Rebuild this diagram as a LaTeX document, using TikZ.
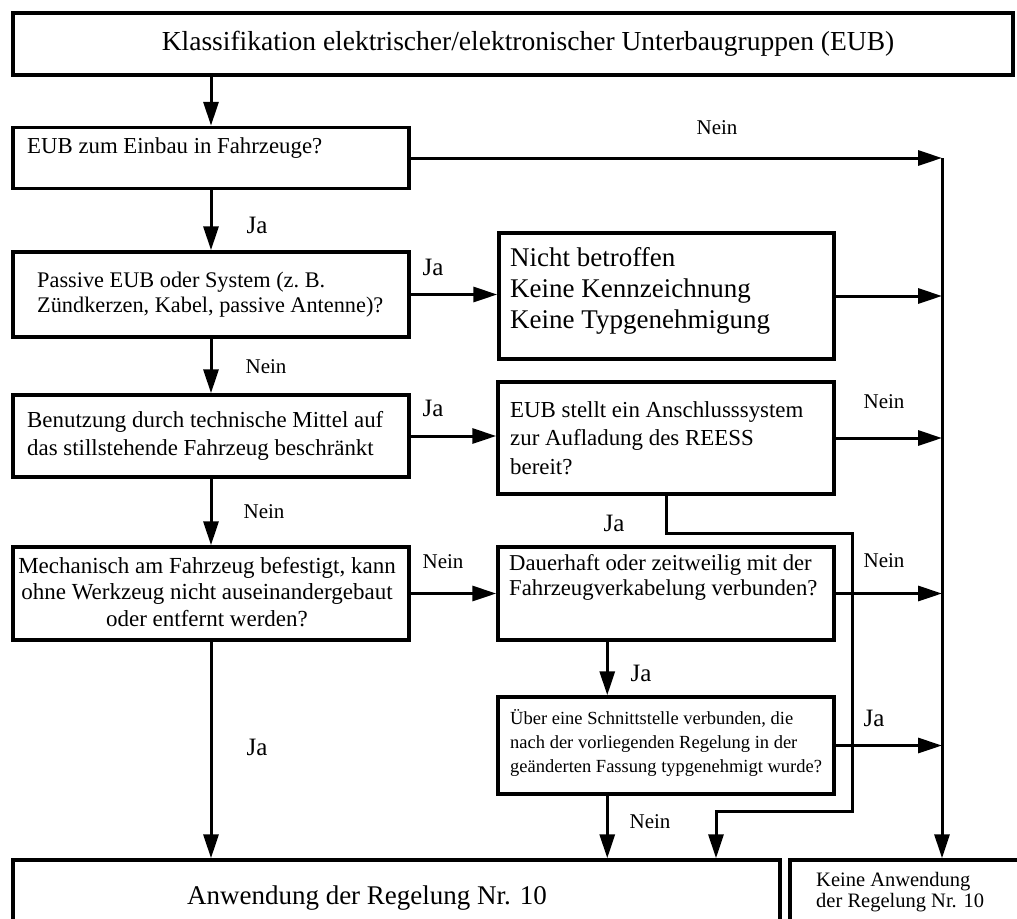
\documentclass[tikz,border=0pt]{standalone}
\usepackage{fontspec}
\setmainfont{Liberation Serif}
\usetikzlibrary{arrows.meta,positioning}
\tikzstyle{arrow} = [line width=3pt,-{Triangle[length=24pt,width=15pt]}]
\tikzstyle{plain} = [line width=3pt]
\tikzstyle{box} = [rectangle, draw, line width=3.5pt, inner sep=0pt]
\tikzstyle{txt} = [inner sep=0pt, anchor=west, align=left]
\tikzstyle{lbl} = [inner sep=0pt, font=\fontsize{25}{28}\selectfont]
\tikzstyle{lblsmall} = [inner sep=0pt, font=\fontsize{21}{24}\selectfont]

\begin{document}
\begin{tikzpicture}[x=1pt, y=-1pt]
    \useasboundingbox (0,0) rectangle (1017,918);
    \clip (0,0) rectangle (1017,918);

    % Title
    \node[box, minimum width=1000pt, minimum height=62pt] (title) at (513,44) {};
    \node[inner sep=0pt, font=\fontsize{27.5}{31}\selectfont] (titleT) at (528,44) {Klassifikation elektrischer/elektronischer Unterbaugruppen (EUB)};

    % Left column
    \node[box, minimum width=396pt, minimum height=61pt] (eub) at (211,158) {};
    \node[txt, font=\fontsize{22.8}{26}\selectfont] (eubT) at (27,148) {EUB zum Einbau in Fahrzeuge?};

    \node[box, minimum width=396pt, minimum height=85pt] (passiv) at (211,294.5) {};
    \node[txt, font=\fontsize{22.3}{25}\selectfont] (passivT) at (37,294.5) {Passive EUB oder System (z.\ B.\\Zündkerzen, Kabel, passive Antenne)?};

    \node[box, minimum width=396pt, minimum height=82pt] (stand) at (211,436) {};
    \node[txt, font=\fontsize{22.9}{28}\selectfont] (standT) at (27,436) {Benutzung durch technische Mittel auf\\das stillstehende Fahrzeug beschränkt};

    \node[box, minimum width=396pt, minimum height=93pt] (mech) at (211,593.5) {};
    \node[inner sep=0pt, align=center, font=\fontsize{23}{26.5}\selectfont] (mechT) at (207,592) {Mechanisch am Fahrzeug befestigt, kann\\ohne Werkzeug nicht auseinandergebaut\\oder entfernt werden?};

    % Right column
    \node[box, minimum width=335pt, minimum height=126pt] (nicht) at (666.5,296) {};
    \node[txt, font=\fontsize{27}{31}\selectfont] (nichtT) at (510,291) {Nicht betroffen\\Keine Kennzeichnung\\Keine Typgenehmigung};

    \node[box, minimum width=336pt, minimum height=112pt] (reess) at (666,438) {};
    \node[txt, font=\fontsize{22.9}{28.5}\selectfont] (reessT) at (510,438) {EUB stellt ein Anschlusssystem\\zur Aufladung des REESS\\bereit?};

    \node[box, minimum width=336pt, minimum height=93pt] (kabel) at (666,593.5) {};
    \node[txt, font=\fontsize{22.7}{25}\selectfont] (kabelT) at (509,577.5) {Dauerhaft oder zeitweilig mit der\\Fahrzeugverkabelung verbunden?};

    \node[box, minimum width=336pt, minimum height=97pt] (schnitt) at (666,745.5) {};
    \node[txt, font=\fontsize{18.5}{24}\selectfont] (schnittT) at (510,743) {Über eine Schnittstelle verbunden, die\\nach der vorliegenden Regelung in der\\geänderten Fassung typgenehmigt wurde?};

    % Results
    \node[box, minimum width=767pt, minimum height=100pt] (anw) at (396.5,910) {};
    \node[inner sep=0pt, font=\fontsize{27}{30}\selectfont] (anwT) at (367,898) {Anwendung der Regelung Nr. 10};

    \node[box, minimum width=250pt, minimum height=100pt] (keine) at (915,910) {};
    \node[txt, font=\fontsize{20.5}{21}\selectfont] (keineT) at (816,892.5) {Keine Anwendung\\der Regelung Nr. 10};

    % Helper points
    \coordinate (trunk) at (942,158);
    \coordinate (loopA) at (852,533);
    \coordinate (loopB) at (716,811);

    % Arrows left column
    \draw[arrow] (eub.north |- title.south) -- (eub.north);
    \draw[arrow] (eub.south) -- (passiv.north);
    \draw[arrow] (passiv.south) -- (stand.north);
    \draw[arrow] (stand.south) -- (mech.north);
    \draw[arrow] (mech.south) -- (mech.south |- anw.north);

    % Arrows to the right
    \draw[arrow] (passiv.east) -- (passiv.east -| nicht.west);
    \draw[arrow] (stand.east) -- (stand.east -| reess.west);
    \draw[arrow] (mech.east) -- (mech.east -| kabel.west);
    \draw[arrow] ([xshift=111pt]kabel.south west) -- ([xshift=111pt]schnitt.north west);
    \draw[arrow] ([xshift=111pt]schnitt.south west) -- ([xshift=111pt]schnitt.south west |- anw.north);
    \draw[arrow] (reess.south) |- (loopA) |- (loopB) -- (loopB |- anw.north);

    % Trunk to "Keine Anwendung"
    \draw[arrow] (eub.east) -- (eub.east -| trunk);
    \draw[arrow] (nicht.east) -- (nicht.east -| trunk);
    \draw[arrow] (reess.east) -- (reess.east -| trunk);
    \draw[arrow] (kabel.east) -- (kabel.east -| trunk);
    \draw[arrow] (schnitt.east) -- (schnitt.east -| trunk);
    \draw[arrow] (trunk) -- (trunk |- keine.north);

    % Labels
    \node[lblsmall] (n1) at (717,128) {Nein};
    \node[lbl] (j1) at (257,225) {Ja};
    \node[lbl] (j2) at (433,267) {Ja};
    \node[lblsmall] (n2) at (266,367) {Nein};
    \node[lbl] (j3) at (433,408) {Ja};
    \node[lblsmall] (n3) at (264,512) {Nein};
    \node[lblsmall] (n4) at (443,562) {Nein};
    \node[lbl] (j4) at (257,747) {Ja};
    \node[lblsmall] (n5) at (884,402) {Nein};
    \node[lbl] (j5) at (614,523) {Ja};
    \node[lblsmall] (n6) at (884,561) {Nein};
    \node[lbl] (j6) at (641,673) {Ja};
    \node[lbl] (j7) at (874,718) {Ja};
    \node[lblsmall] (n7) at (650,822) {Nein};
\end{tikzpicture}
\end{document}
